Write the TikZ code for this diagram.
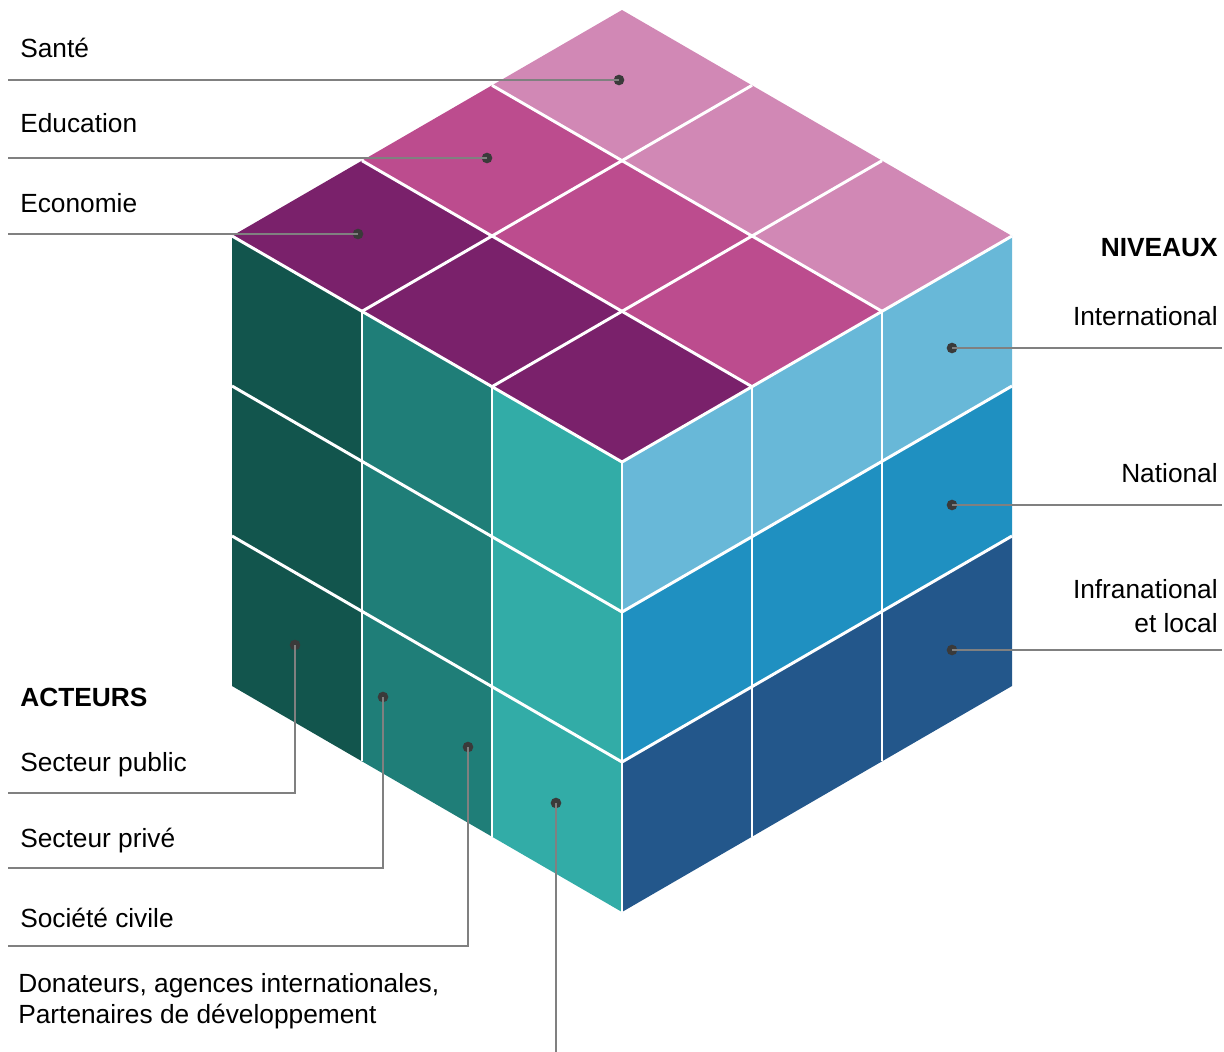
\documentclass[tikz,border=0pt]{standalone}
\usepackage{fontspec}
\setmainfont{Liberation Sans}
\usetikzlibrary{calc}

\definecolor{pinkL}{HTML}{D188B5}
\definecolor{pinkM}{HTML}{BC4C8E}
\definecolor{purple}{HTML}{7A216B}
\definecolor{greenD}{HTML}{12554D}
\definecolor{greenM}{HTML}{1F7E78}
\definecolor{greenL}{HTML}{32ACA7}
\definecolor{blueL}{HTML}{68B8D8}
\definecolor{blueM}{HTML}{1F90C1}
\definecolor{blueD}{HTML}{23578B}
\definecolor{leadgray}{HTML}{808080}
\definecolor{dotgray}{HTML}{3A3A3A}

\tikzset{
  lbl/.style={font=\fontsize{18.7}{22}\selectfont, inner sep=0pt},
  head/.style={lbl, font=\fontsize{18.7}{22}\selectfont\bfseries},
  cubeline/.style={white, line width=2.1pt},
  lead/.style={leadgray, line width=1.3pt},
  dot/.style={circle, fill=dotgray, inner sep=0pt, minimum size=7.6pt},
}

\begin{document}
\begin{tikzpicture}[x=0.025cm, y=-0.025cm]
\useasboundingbox (0,0) rectangle (1224,1052);

\coordinate (T) at (622,10);
\coordinate (L) at (232,236);
\coordinate (R) at (1012,236);
\coordinate (F) at (622,462);
\coordinate (LB) at (232,686);
\coordinate (RB) at (1012,686);
\coordinate (B) at (622,912);

\foreach \a/\b/\c in {0/0.3333/pinkL,0.3333/0.6667/pinkM,0.6667/1/purple}
  \fill[\c] ($(T)!\a!(L)$) -- ($(R)!\a!(F)$) -- ($(R)!\b!(F)$) -- ($(T)!\b!(L)$) -- cycle;
\foreach \a/\b/\c in {0/0.3333/greenD,0.3333/0.6667/greenM,0.6667/1/greenL}
  \fill[\c] ($(L)!\a!(F)$) -- ($(L)!\b!(F)$) -- ($(LB)!\b!(B)$) -- ($(LB)!\a!(B)$) -- cycle;
\foreach \a/\b/\c in {0/0.3333/blueL,0.3333/0.6667/blueM,0.6667/1/blueD}
  \fill[\c] ($(F)!\a!(B)$) -- ($(R)!\a!(RB)$) -- ($(R)!\b!(RB)$) -- ($(F)!\b!(B)$) -- cycle;

\foreach \k in {1,2,3} {
  \draw[cubeline] ($(T)!\k/3!(L)$) -- ($(R)!\k/3!(F)$);
  \draw[cubeline] ($(T)!\k/3!(R)$) -- ($(L)!\k/3!(F)$);
  \draw[cubeline] ($(L)!\k/3!(F)$) -- ($(LB)!\k/3!(B)$);
}
\foreach \k in {1,2} {
  \draw[cubeline] ($(L)!\k/3!(LB)$) -- ($(F)!\k/3!(B)$);
  \draw[cubeline] ($(F)!\k/3!(B)$) -- ($(R)!\k/3!(RB)$);
  \draw[cubeline] ($(F)!\k/3!(R)$) -- ($(B)!\k/3!(RB)$);
}

\node[lbl, anchor=base west] (tSante) at (20,57) {Santé};
\node[lbl, anchor=base west] (tEducation) at (20,132) {Education};
\node[lbl, anchor=base west] (tEconomie) at (20,212) {Economie};
\node[head, anchor=base east] (tNiveaux) at (1218,256) {NIVEAUX};
\node[lbl, anchor=base east] (tInter) at (1218,325) {International};
\node[lbl, anchor=base east] (tNational) at (1218,482) {National};
\node[lbl, anchor=base east, align=right, font=\fontsize{18.7}{24}\selectfont] (tInfra) at (1218,632) {Infranational\\et local};
\node[head, anchor=base west] (tActeurs) at (20,706) {ACTEURS};
\node[lbl, anchor=base west] (tPublic) at (20,771) {Secteur public};
\node[lbl, anchor=base west] (tPrive) at (20,847) {Secteur privé};
\node[lbl, anchor=base west] (tCivile) at (20,927) {Société civile};
\node[lbl, anchor=base west, align=left] (tDonateurs) at (18,1023) {Donateurs, agences internationales,\\Partenaires de développement};

\node[dot] (dSante) at (619,80) {};
\node[dot] (dEducation) at (487,158) {};
\node[dot] (dEconomie) at (358,234) {};
\node[dot] (dInter) at (952,348) {};
\node[dot] (dNational) at (952,505) {};
\node[dot] (dInfra) at (952,650) {};
\node[dot] (dPublic) at (295,645) {};
\node[dot] (dPrive) at (383,697) {};
\node[dot] (dCivile) at (468,747) {};
\node[dot] (dDonateurs) at (556,803) {};

\coordinate (eSante) at (8,80);
\coordinate (eEducation) at (8,158);
\coordinate (eEconomie) at (8,234);
\coordinate (eInter) at (1222,348);
\coordinate (eNational) at (1222,505);
\coordinate (eInfra) at (1222,650);
\coordinate (ePublic) at (8,793);
\coordinate (ePrive) at (8,868);
\coordinate (eCivile) at (8,946);
\coordinate (eDonateurs) at (556,1052);

\draw[lead] (eSante) -- (dSante.center);
\draw[lead] (eEducation) -- (dEducation.center);
\draw[lead] (eEconomie) -- (dEconomie.center);
\draw[lead] (dInter.center) -- (eInter);
\draw[lead] (dNational.center) -- (eNational);
\draw[lead] (dInfra.center) -- (eInfra);
\draw[lead] (ePublic) -| (dPublic.center);
\draw[lead] (ePrive) -| (dPrive.center);
\draw[lead] (eCivile) -| (dCivile.center);
\draw[lead] (dDonateurs.center) -- (eDonateurs);

\end{tikzpicture}
\end{document}
